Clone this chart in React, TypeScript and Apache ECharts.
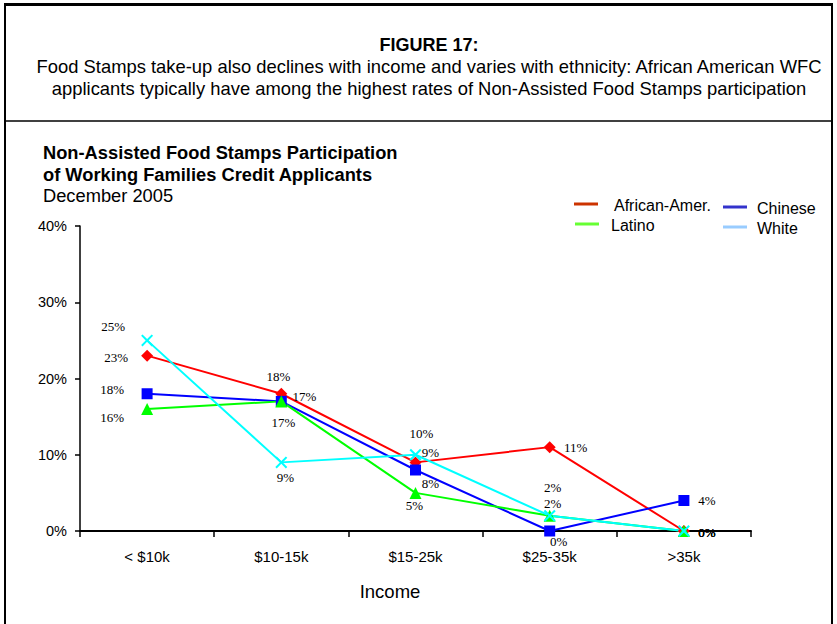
import React, { useEffect, useRef } from "react";
import * as echarts from "echarts";

const categories = ["< $10k", "$10-15k", "$15-25k", "$25-35k", ">35k"];
const africanAmer = [23, 18, 9, 11, 0];
const chinese = [18, 17, 8, 0, 4];
const latino = [16, 17, 5, 2, 0];
const white = [25, 9, 10, 2, 0];
const yMin = 0;
const yMax = 40;
const yStep = 10;

// label offsets (dx, dy) from each marker centre
const offAfrican = [[-31, 2], [-3, -17], [15, -10], [26, 0], [23, 1]];
const offChinese = [[-35, -4], [23, -5], [15, 13], [9, 10], [23, 0]];
const offLatino = [[-35, 8], [2, 21], [-1, 13], [3, -12], [23, 1]];
const offWhite = [[-34, -14], [4, 15], [6, -21], [3, -28], [23, 1]];

const SANS = "'Liberation Sans', Arial, sans-serif";
const SERIF = "'Liberation Serif', 'Times New Roman', serif";

const X_PATH =
  "path://M0,1.2L1.2,0L5,3.8L8.8,0L10,1.2L6.2,5L10,8.8L8.8,10L5,6.2L1.2,10L0,8.8L3.8,5Z";

function mkSeries(name: string, vals: number[], offs: number[][], color: string, symbol: string, size: number) {
  const lbl = {
    show: true,
    fontFamily: SERIF,
    fontSize: 13,
    color: "#000",
    align: "center",
    verticalAlign: "middle",
    formatter: "{c}%",
  };
  return {
    name,
    type: "line",
    data: vals.map((v, i) => ({
      value: v,
      label: { ...lbl, position: [size / 2 + offs[i][0], size / 2 + offs[i][1]] },
    })),
    symbol,
    symbolSize: size,
    showAllSymbol: true,
    lineStyle: { color, width: 2 },
    itemStyle: { color },
    label: lbl,
    labelLayout: { hideOverlap: false },
  };
}

export default function App() {
  const ref = useRef<HTMLDivElement>(null);
  useEffect(() => {
    const chart = echarts.init(ref.current!, undefined, { renderer: "svg" });
    const legendItems = [
      { label: "African-Amer.", color: "#CC3300", x1: 574, x2: 598, y: 204, tx: 614, ty: 205 },
      { label: "Latino", color: "#66FF33", x1: 575, x2: 599, y: 224, tx: 611, ty: 225 },
      { label: "Chinese", color: "#3333CC", x1: 723, x2: 747, y: 207, tx: 757, ty: 208 },
      { label: "White", color: "#99CCFF", x1: 723, x2: 747, y: 227, tx: 757, ty: 228 },
    ];
    const graphics: any[] = [
      { type: "line", shape: { x1: 4, y1: 4.5, x2: 833, y2: 4.5 }, style: { stroke: "#000", lineWidth: 3 } },
      { type: "line", shape: { x1: 5, y1: 4, x2: 5, y2: 624 }, style: { stroke: "#000", lineWidth: 2 } },
      { type: "line", shape: { x1: 832, y1: 4, x2: 832, y2: 624 }, style: { stroke: "#000", lineWidth: 2 } },
      { type: "line", shape: { x1: 5, y1: 121, x2: 832, y2: 121 }, style: { stroke: "#000", lineWidth: 1.5 } },
      {
        type: "text", x: 429, y: 45,
        style: { text: "FIGURE 17:", font: `bold 18px ${SANS}`, fill: "#000", textAlign: "center", textVerticalAlign: "middle" },
      },
      {
        type: "text", x: 429, y: 66,
        style: { text: "Food Stamps take-up also declines with income and varies with ethnicity: African American WFC", font: `18.4px ${SANS}`, fill: "#000", textAlign: "center", textVerticalAlign: "middle" },
      },
      {
        type: "text", x: 429, y: 88,
        style: { text: "applicants typically have among the highest rates of Non-Assisted Food Stamps participation", font: `18.4px ${SANS}`, fill: "#000", textAlign: "center", textVerticalAlign: "middle" },
      },
      {
        type: "text", x: 43, y: 152,
        style: { text: "Non-Assisted Food Stamps Participation", font: `bold 18.3px ${SANS}`, fill: "#000", textVerticalAlign: "middle" },
      },
      {
        type: "text", x: 43, y: 174,
        style: { text: "of Working Families Credit Applicants", font: `bold 18.3px ${SANS}`, fill: "#000", textVerticalAlign: "middle" },
      },
      {
        type: "text", x: 43, y: 195,
        style: { text: "December 2005", font: `18.3px ${SANS}`, fill: "#000", textVerticalAlign: "middle" },
      },
      {
        type: "text", x: 390, y: 591,
        style: { text: "Income", font: `18.5px ${SANS}`, fill: "#000", textAlign: "center", textVerticalAlign: "middle" },
      },
    ];
    legendItems.forEach((l) => {
      graphics.push({ type: "line", shape: { x1: l.x1, y1: l.y, x2: l.x2, y2: l.y }, style: { stroke: l.color, lineWidth: 3 } });
      graphics.push({
        type: "text", x: l.tx, y: l.ty,
        style: { text: l.label, font: `16px ${SANS}`, fill: "#000", textVerticalAlign: "middle" },
      });
    });

    chart.setOption({
      animation: false,
      backgroundColor: "#fff",
      grid: { left: 80, right: 86, top: 226, bottom: 93, containLabel: false },
      xAxis: {
        type: "category",
        data: categories,
        boundaryGap: true,
        axisLine: { lineStyle: { color: "#000", width: 2 } },
        axisTick: { show: true, length: 6, lineStyle: { color: "#000", width: 1.5 } },
        axisLabel: { color: "#000", fontFamily: SANS, fontSize: 15, margin: 18 },
      },
      yAxis: {
        type: "value",
        min: yMin,
        max: yMax,
        interval: yStep,
        splitLine: { show: false },
        axisLine: { show: true, lineStyle: { color: "#000", width: 1.5 } },
        axisTick: { show: true, length: 5, lineStyle: { color: "#000", width: 1.5 } },
        axisLabel: { color: "#000", fontFamily: SANS, fontSize: 14.5, margin: 13, formatter: "{value}%" },
      },
      series: [
        mkSeries("African-Amer.", africanAmer, offAfrican, "#FF0000", "diamond", 12),
        mkSeries("Chinese", chinese, offChinese, "#0000FF", "rect", 11),
        mkSeries("Latino", latino, offLatino, "#00FF00", "triangle", 12),
        mkSeries("White", white, offWhite, "#00FFFF", X_PATH, 12),
      ],
      graphic: graphics,
    });
    return () => chart.dispose();
  }, []);
  return (
    <div
      ref={ref}
      style={{ position: "absolute", left: 0, top: 0, width: 837, height: 624, background: "#fff" }}
    />
  );
}
